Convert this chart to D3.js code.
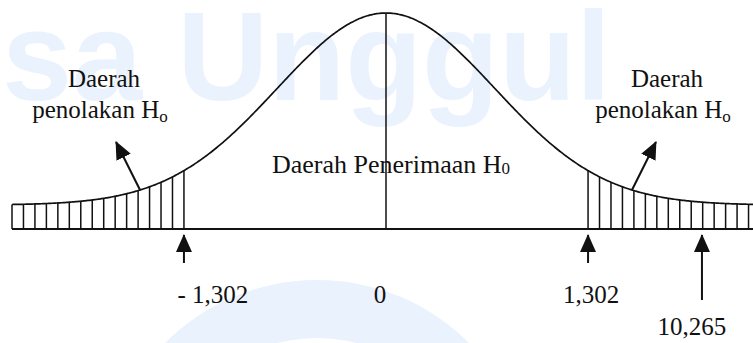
<!DOCTYPE html>
<meta charset="utf-8">
<style>
  body { margin: 0; background: #fff; }
  text { font-family: "Liberation Serif", "Times New Roman", serif; fill: #111; }
</style>
<svg width="753" height="343"></svg>

<script src="https://d3js.org/d3.v7.min.js"></script>
<script>
// critical values and the test statistic (z units)
var criticalZ = 1.302
var markValues = [-1.302, 0, 1.302, 10.265]
var markLabels = ["- 1,302", "0", "1,302", "10,265"]

// shape of the schematic bell: spread of the hump and the height the tails level off at
var spread = 0.702
var tailFloor = 0.111
var zEdge = 2.41

// the test statistic is far off the scale, it is drawn out in the right tail
var offScaleAt = 2.036

var regionTitle = ["Daerah", "penolakan H"]
var acceptTitle = "Daerah Penerimaan H"

var width = 753
var height = 343
var svg = d3.select('svg')

var baseY = 229
var x = d3.scaleLinear().domain([-zEdge, zEdge]).range([12, 760])
var y = d3.scaleLinear().domain([0, 1]).range([baseY, 13])

function bell(z) {
  return tailFloor + (1 - tailFloor) * Math.exp(-z * z / (2 * spread * spread))
}

// watermark in the background
var wm = svg.append('g').attr('class', 'watermark')
wm.append('circle').attr('cx', 317).attr('cy', 495).attr('r', 215).attr('fill', '#eaf2fd')
wm.append('circle').attr('cx', 317).attr('cy', 495).attr('r', 157).attr('fill', '#fff')
wm.append('text')
  .attr('x', -82).attr('y', 100)
  .style('font-family', '"Liberation Sans", Arial, sans-serif')
  .style('font-weight', 'bold')
  .style('font-size', '126px')
  .style('fill', '#eaf2fd')
  .text('Esa Unggul')

// arrow heads
var defs = svg.append('defs')
defs.append('marker')
  .attr('id', 'head')
  .attr('markerUnits', 'userSpaceOnUse')
  .attr('viewBox', '0 0 18 16')
  .attr('refX', 17).attr('refY', 8)
  .attr('markerWidth', 18).attr('markerHeight', 16)
  .attr('orient', 'auto')
  .append('path').attr('d', 'M0,0L18,8L0,16Z').attr('fill', '#111')

// hatching in both rejection tails
var step = (zEdge - criticalZ) / 15
var hatch = d3.range(0, 16).map(function (i) { return criticalZ + i * step })
hatch = hatch.map(function (z) { return -z }).concat(hatch)

svg.append('g').selectAll('line')
  .data(hatch)
  .enter().append('line')
  .attr('x1', function (z) { return x(z) })
  .attr('x2', function (z) { return x(z) })
  .attr('y1', baseY)
  .attr('y2', function (z) { return y(bell(z)) })
  .attr('stroke', '#111')
  .attr('stroke-width', 1.5)

// the curve
var curvePts = d3.range(-zEdge, zEdge + 0.001, 0.01)
var line = d3.line()
  .x(function (z) { return x(z) })
  .y(function (z) { return y(bell(z)) })
  .curve(d3.curveBasis)

svg.append('path')
  .datum(curvePts)
  .attr('d', line)
  .attr('fill', 'none')
  .attr('stroke', '#111')
  .attr('stroke-width', 1.7)

// acceptance label, then the centre line over it
var acc = svg.append('text')
  .attr('x', 272).attr('y', 173)
  .style('font-size', '26px')
acc.append('tspan').text(acceptTitle)
acc.append('tspan').attr('dy', 1).style('font-size', '17px').text('0')

svg.append('line')
  .attr('x1', x(0)).attr('x2', x(0))
  .attr('y1', baseY).attr('y2', y(bell(0)))
  .attr('stroke', '#111')
  .attr('stroke-width', 1.5)

// baseline
svg.append('line')
  .attr('x1', x(-zEdge)).attr('x2', width)
  .attr('y1', baseY).attr('y2', baseY)
  .attr('stroke', '#111')
  .attr('stroke-width', 2.2)

// rejection-region titles with arrows from the tails
var sides = [-1, 1]
var titleX = [104, 667]
sides.forEach(function (s, i) {
  var t = svg.append('text')
    .attr('text-anchor', 'middle')
    .style('font-size', '25px')
  t.append('tspan').attr('x', titleX[i]).attr('y', 87).text(regionTitle[0])
  t.append('tspan').attr('x', titleX[i] - 4).attr('y', 118).text(regionTitle[1])
  t.append('tspan').attr('dy', 4).style('font-size', '17px').text('o')

  var z0 = s * 1.585
  var x0 = x(z0), y0 = y(bell(z0))
  svg.append('line')
    .attr('x1', x0).attr('y1', y0)
    .attr('x2', x0 + s * 24).attr('y2', y0 - 48)
    .attr('stroke', '#111')
    .attr('stroke-width', 2)
    .attr('marker-end', 'url(#head)')
})

// markers under the axis
var labelNudge = [29, -6, 3, -10]
var labelY = [303, 303, 303, 335]
var shaftEnd = [263, null, 263, 300]

markValues.forEach(function (v, i) {
  var px = x(Math.abs(v) > zEdge ? offScaleAt : v)
  if (shaftEnd[i] !== null) {
    svg.append('line')
      .attr('x1', px).attr('x2', px)
      .attr('y1', shaftEnd[i]).attr('y2', baseY + 6)
      .attr('stroke', '#111')
      .attr('stroke-width', 2)
      .attr('marker-end', 'url(#head)')
  }
  svg.append('text')
    .attr('x', px + labelNudge[i])
    .attr('y', labelY[i])
    .attr('text-anchor', 'middle')
    .style('font-size', '25px')
    .text(markLabels[i])
})
</script>
